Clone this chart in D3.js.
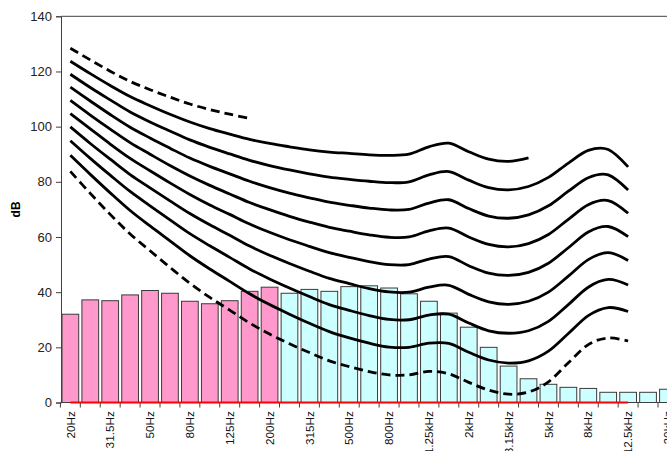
<!DOCTYPE html>
<html>
<head>
<meta charset="utf-8">
<script src="https://cdn.jsdelivr.net/npm/d3@7/dist/d3.min.js"></script>
<style>
  html, body { margin: 0; padding: 0; background: #fff; }
  svg { display: block; }
  text { font-family: "Liberation Sans", Arial, sans-serif; }
</style>
</head>
<body>
<svg id="chart" width="667" height="451"></svg>
<script>
// One-third-octave band labels
const bands = ["20Hz","25Hz","31.5Hz","40Hz","50Hz","63Hz","80Hz","100Hz","125Hz","160Hz",
  "200Hz","250Hz","315Hz","400Hz","500Hz","630Hz","800Hz","1kHz","1.25kHz","1.6kHz",
  "2kHz","2.5kHz","3.15kHz","4kHz","5kHz","6.3kHz","8kHz","10kHz","12.5kHz","16kHz","20kHz"];

// Measured band levels (dB): low bands (pink) and upper bands (cyan)
const lowBandLevels = [32.0, 37.2, 36.9, 39.0, 40.6, 39.6, 36.7, 35.8, 36.9, 40.3, 41.8];
const highBandLevels = [39.6, 41.0, 40.3, 42.0, 42.3, 41.5, 39.4, 36.7, 32.4, 27.3,
  20.0, 13.2, 8.6, 6.6, 5.5, 5.1, 3.7, 3.7, 3.7, 4.8];

// Equal-loudness contours (dB SPL per band, starting at 20Hz)
const phon10 = [83.8, 75.8, 68.2, 61.1, 55.0, 49.0, 43.2, 38.1, 33.5, 28.8, 24.8, 21.3, 18.1, 15.1,
  13.0, 11.2, 10.0, 10.0, 11.3, 10.4, 7.3, 4.5, 3.0, 3.8, 7.5, 14.4, 21.0, 23.4, 22.3];
const phon20 = [89.6, 82.7, 76.0, 69.6, 64.0, 58.6, 53.2, 48.4, 43.9, 39.4, 35.5, 32.0, 28.7, 25.7,
  23.4, 21.5, 20.1, 20.0, 21.5, 21.4, 18.2, 15.4, 14.3, 15.1, 18.6, 25.0, 31.5, 34.4, 33.0];
const phon30 = [94.9, 88.5, 82.4, 76.5, 71.3, 66.2, 61.2, 56.8, 52.6, 48.4, 44.8, 41.5, 38.4, 35.5,
  33.4, 31.5, 30.1, 30.0, 31.7, 32.0, 28.8, 26.0, 25.1, 26.0, 29.4, 35.5, 41.8, 44.6, 42.6];
const phon40 = [99.9, 93.9, 88.2, 82.6, 77.8, 73.1, 68.5, 64.4, 60.6, 56.7, 53.4, 50.4, 47.6, 45.0,
  43.1, 41.3, 40.1, 40.0, 41.8, 42.5, 39.2, 36.5, 35.6, 36.7, 40.0, 45.8, 51.8, 54.3, 51.5];
const phon50 = [104.7, 99.2, 93.7, 88.5, 84.0, 79.6, 75.4, 71.6, 68.2, 64.7, 61.7, 59.0, 56.6, 54.3,
  52.6, 51.1, 50.0, 50.0, 52.0, 52.9, 49.6, 46.9, 46.1, 47.2, 50.5, 56.1, 61.8, 63.8, 60.1];
const phon60 = [109.5, 104.2, 99.1, 94.2, 90.0, 85.9, 82.1, 78.7, 75.6, 72.5, 69.9, 67.5, 65.4, 63.5,
  62.1, 60.8, 59.9, 60.0, 62.2, 63.2, 60.0, 57.3, 56.4, 57.6, 60.9, 66.4, 71.7, 73.2, 68.6];
const phon70 = [114.3, 109.3, 104.4, 99.8, 95.9, 92.2, 88.6, 85.6, 82.9, 80.2, 77.9, 75.9, 74.2, 72.6,
  71.5, 70.5, 69.8, 70.0, 72.3, 73.5, 70.3, 67.6, 66.8, 68.0, 71.3, 76.6, 81.5, 82.5, 77.0];
const phon80 = [119.0, 114.2, 109.7, 105.3, 101.7, 98.4, 95.2, 92.5, 90.1, 87.8, 85.9, 84.3, 82.9, 81.7,
  80.9, 80.2, 79.7, 80.0, 82.5, 83.7, 80.6, 77.9, 77.1, 78.3, 81.6, 86.8, 91.4, 91.7, 85.4];
const phon90 = [123.7, 119.2, 114.9, 110.9, 107.6, 104.5, 101.7, 99.3, 97.3, 95.4, 93.9, 92.7, 91.6, 90.8,
  90.3, 89.8, 89.6, 90.0, 92.7, 94.0, 90.9, 88.2, 87.4, 88.7];
const phon100 = [128.4, 124.2, 120.1, 116.4, 113.4, 110.7, 108.2, 106.2, 104.5, 103.0];

// Zero-level reference spans the contour range (20Hz .. 12.5kHz)
const referenceLevel = 0;
const referenceSpan = ["20Hz", "12.5kHz"];

const yTicks = [0, 20, 40, 60, 80, 100, 120, 140];

const svg = d3.select("#chart");
const plot = { left: 61, top: 16.3, bottom: 402.5, right: 667 };

const x = d3.scaleBand()
  .domain(bands)
  .range([60.4, 60.4 + 19.92 * bands.length])
  .paddingInner(0.16)
  .paddingOuter(0.08);

const y = d3.scaleLinear().domain([0, 140]).range([plot.bottom, plot.top]);

const cx = d => x(d) + x.bandwidth() / 2;

// Bars
const barData = lowBandLevels.map((v, i) => ({ band: bands[i], v, fill: "#FF99CC" }))
  .concat(highBandLevels.map((v, i) => ({ band: bands[i + lowBandLevels.length], v, fill: "#CCFFFF" })));

svg.append("g").selectAll("rect").data(barData).join("rect")
  .attr("x", d => x(d.band))
  .attr("y", d => y(d.v))
  .attr("width", x.bandwidth())
  .attr("height", d => y(0) - y(d.v))
  .attr("fill", d => d.fill)
  .attr("stroke", "#3a3a3a")
  .attr("stroke-width", 1);

// Y axis
const yAxis = d3.axisLeft(y).tickValues(yTicks).tickSize(5).tickPadding(4);
const gy = svg.append("g").attr("transform", `translate(${plot.left},0)`).call(yAxis);
gy.select(".domain").attr("stroke", "#404040");
gy.selectAll(".tick line").attr("stroke", "#404040");
gy.selectAll(".tick text").attr("font-size", 13).attr("fill", "#222")
  .attr("font-family", "'Liberation Sans', Arial, sans-serif");

// Plot top border
svg.append("line")
  .attr("x1", plot.left).attr("x2", plot.right)
  .attr("y1", y(140)).attr("y2", y(140))
  .attr("stroke", "#404040").attr("stroke-width", 1);

// X axis: baseline, ticks between bands, every second label
const gx = svg.append("g");
gx.append("line")
  .attr("x1", plot.left).attr("x2", plot.right)
  .attr("y1", y(0)).attr("y2", y(0))
  .attr("stroke", "#404040");
gx.selectAll("line.tk").data(bands).join("line")
  .attr("class", "tk")
  .attr("x1", d => x(d) - x.step() * 0.08).attr("x2", d => x(d) - x.step() * 0.08)
  .attr("y1", y(0)).attr("y2", y(0) + 5)
  .attr("stroke", "#404040");
gx.selectAll("text").data(bands.filter((d, i) => i % 2 === 0)).join("text")
  .attr("transform", d => `translate(${cx(d)},${y(0) + 8.5}) rotate(-90)`)
  .attr("text-anchor", "end")
  .attr("dy", "0.35em")
  .attr("font-size", 11.8)
  .attr("fill", "#111")
  .text(d => d);

// Y axis title
svg.append("text")
  .attr("transform", `translate(16,${(plot.top + plot.bottom) / 2}) rotate(-90)`)
  .attr("text-anchor", "middle")
  .attr("dy", "0.35em")
  .attr("font-size", 12)
  .attr("font-weight", "bold")
  .text("dB");

// Red zero reference line
svg.append("line")
  .attr("x1", cx(referenceSpan[0])).attr("x2", cx(referenceSpan[1]))
  .attr("y1", y(referenceLevel)).attr("y2", y(referenceLevel))
  .attr("stroke", "#FF0000").attr("stroke-width", 2);

// Contours
const line = d3.line()
  .x((d, i) => cx(bands[i]))
  .y(d => y(d))
  .curve(d3.curveCardinal.tension(0));

const contours = [
  { data: phon10, dashed: true },
  { data: phon20 }, { data: phon30 }, { data: phon40 }, { data: phon50 },
  { data: phon60 }, { data: phon70 }, { data: phon80 }, { data: phon90 },
  { data: phon100, dashed: true }
];

svg.append("g").selectAll("path").data(contours).join("path")
  .attr("d", d => line(d.data))
  .attr("fill", "none")
  .attr("stroke", "#000")
  .attr("stroke-width", 2.8)
  .attr("stroke-dasharray", d => d.dashed ? "9,5" : null);
</script>
</body>
</html>
